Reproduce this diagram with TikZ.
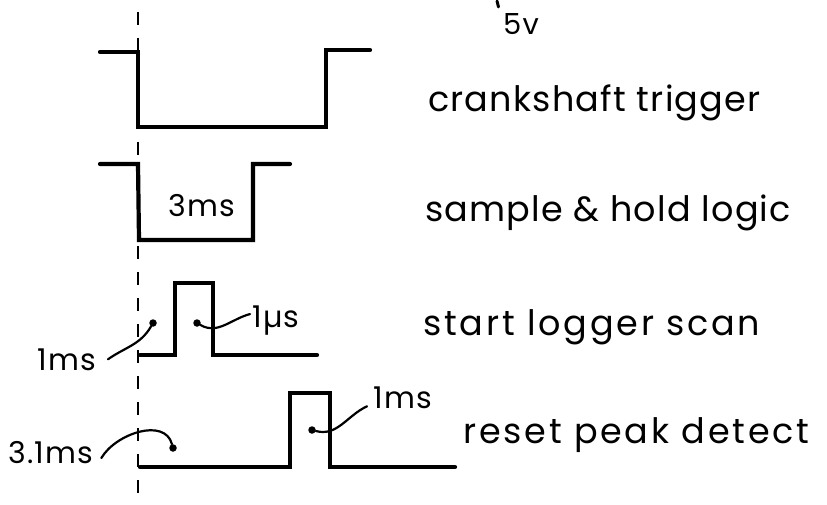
\documentclass[tikz,border=0pt]{standalone}
\usepackage{fontspec}
\setmainfont{Poppins}
\newfontfamily\sigfont[LetterSpace=3.5]{Poppins}
\newfontfamily\widefont[LetterSpace=8]{Poppins}
\newfontfamily\tagfont[LetterSpace=4]{Poppins}
\begin{document}
\begin{tikzpicture}[x=1pt, y=-1pt,
  wave/.style={line width=4.2pt, line cap=round, line join=miter},
  leader/.style={line width=2.2pt, line cap=round},
  sigtext/.style={anchor=base west, inner sep=0pt, font=\fontsize{35}{40}\sigfont},
  tlabel/.style={anchor=base west, inner sep=0pt, font=\fontsize{30}{34}\tagfont},
  tdot/.style={fill, circle, inner sep=0pt, minimum size=7.5pt}]
%% canvas 827 x 505 px, y measured downwards
\useasboundingbox (0,0) rectangle (827,505);

%% ---- Reference line (trigger instant) ----
\draw[line width=2.8pt, dash pattern=on 13pt off 13pt] (138,12) -- (138,505);

%% ---- Supply mark ----
\draw[line width=3pt, line cap=round] (497,1) -- (498.5,7);
\node[tlabel, font=\fontsize{29}{32}\tagfont] (supply) at (503,35) {5v};

%% ---- Waveforms ----
\draw[wave] (100,52) -- (138,52) -- (138,127) -- (326,127) -- (326,50) -- (370,50);
\draw[wave] (100,164) -- (138,164) -- (139,240) -- (253,240) -- (253,164) -- (290,164);
\draw[wave] (140,355) -- (175,355) -- (175,283) -- (213,283) -- (213,355) -- (317,355);
\draw[wave] (140,467) -- (290,467) -- (290,393) -- (330,393) -- (330,467) -- (455,467);

%% ---- Signal names ----
\node[sigtext] (crank)  at (428,112) {crankshaft trigger};
\node[sigtext] (sample) at (425,222) {sample \& hold logic};
\node[sigtext, font=\fontsize{35}{40}\widefont] (logger) at (423,335) {start logger scan};
\node[sigtext, font=\fontsize{35}{40}\widefont] (reset)  at (463,443) {reset peak detect};

%% ---- Timing labels ----
\node[tlabel] (hold)    at (168,217) {3ms};
\node[tlabel] (dlyscan) at (37,370)  {1ms};
\node[tlabel] (wscan)   at (252,327) {1µs};
\node[tlabel] (dlyrst)  at (8,463)   {3.1ms};
\node[tlabel] (wrst)    at (373,408) {1ms};

%% ---- Leaders with end dots ----
\node[tdot] (pdlyscan) at (153,323) {};
\node[tdot] (pwscan)   at (197,323) {};
\node[tdot] (pdlyrst)  at (173,448) {};
\node[tdot] (pwrst)    at (312,430) {};

\draw[leader] (dlyscan.east) ++(12,0) to[out=35, in=240] (pdlyscan);
\draw[leader] (wscan.west) ++(-2,-6) to[out=195, in=-30] (pwscan);
\draw[leader] (dlyrst.east) ++(8,6) to[out=60, in=105] (pdlyrst);
\draw[leader] (wrst.west) ++(-6,9) to[out=205, in=-15] (pwrst);
\end{tikzpicture}
\end{document}
